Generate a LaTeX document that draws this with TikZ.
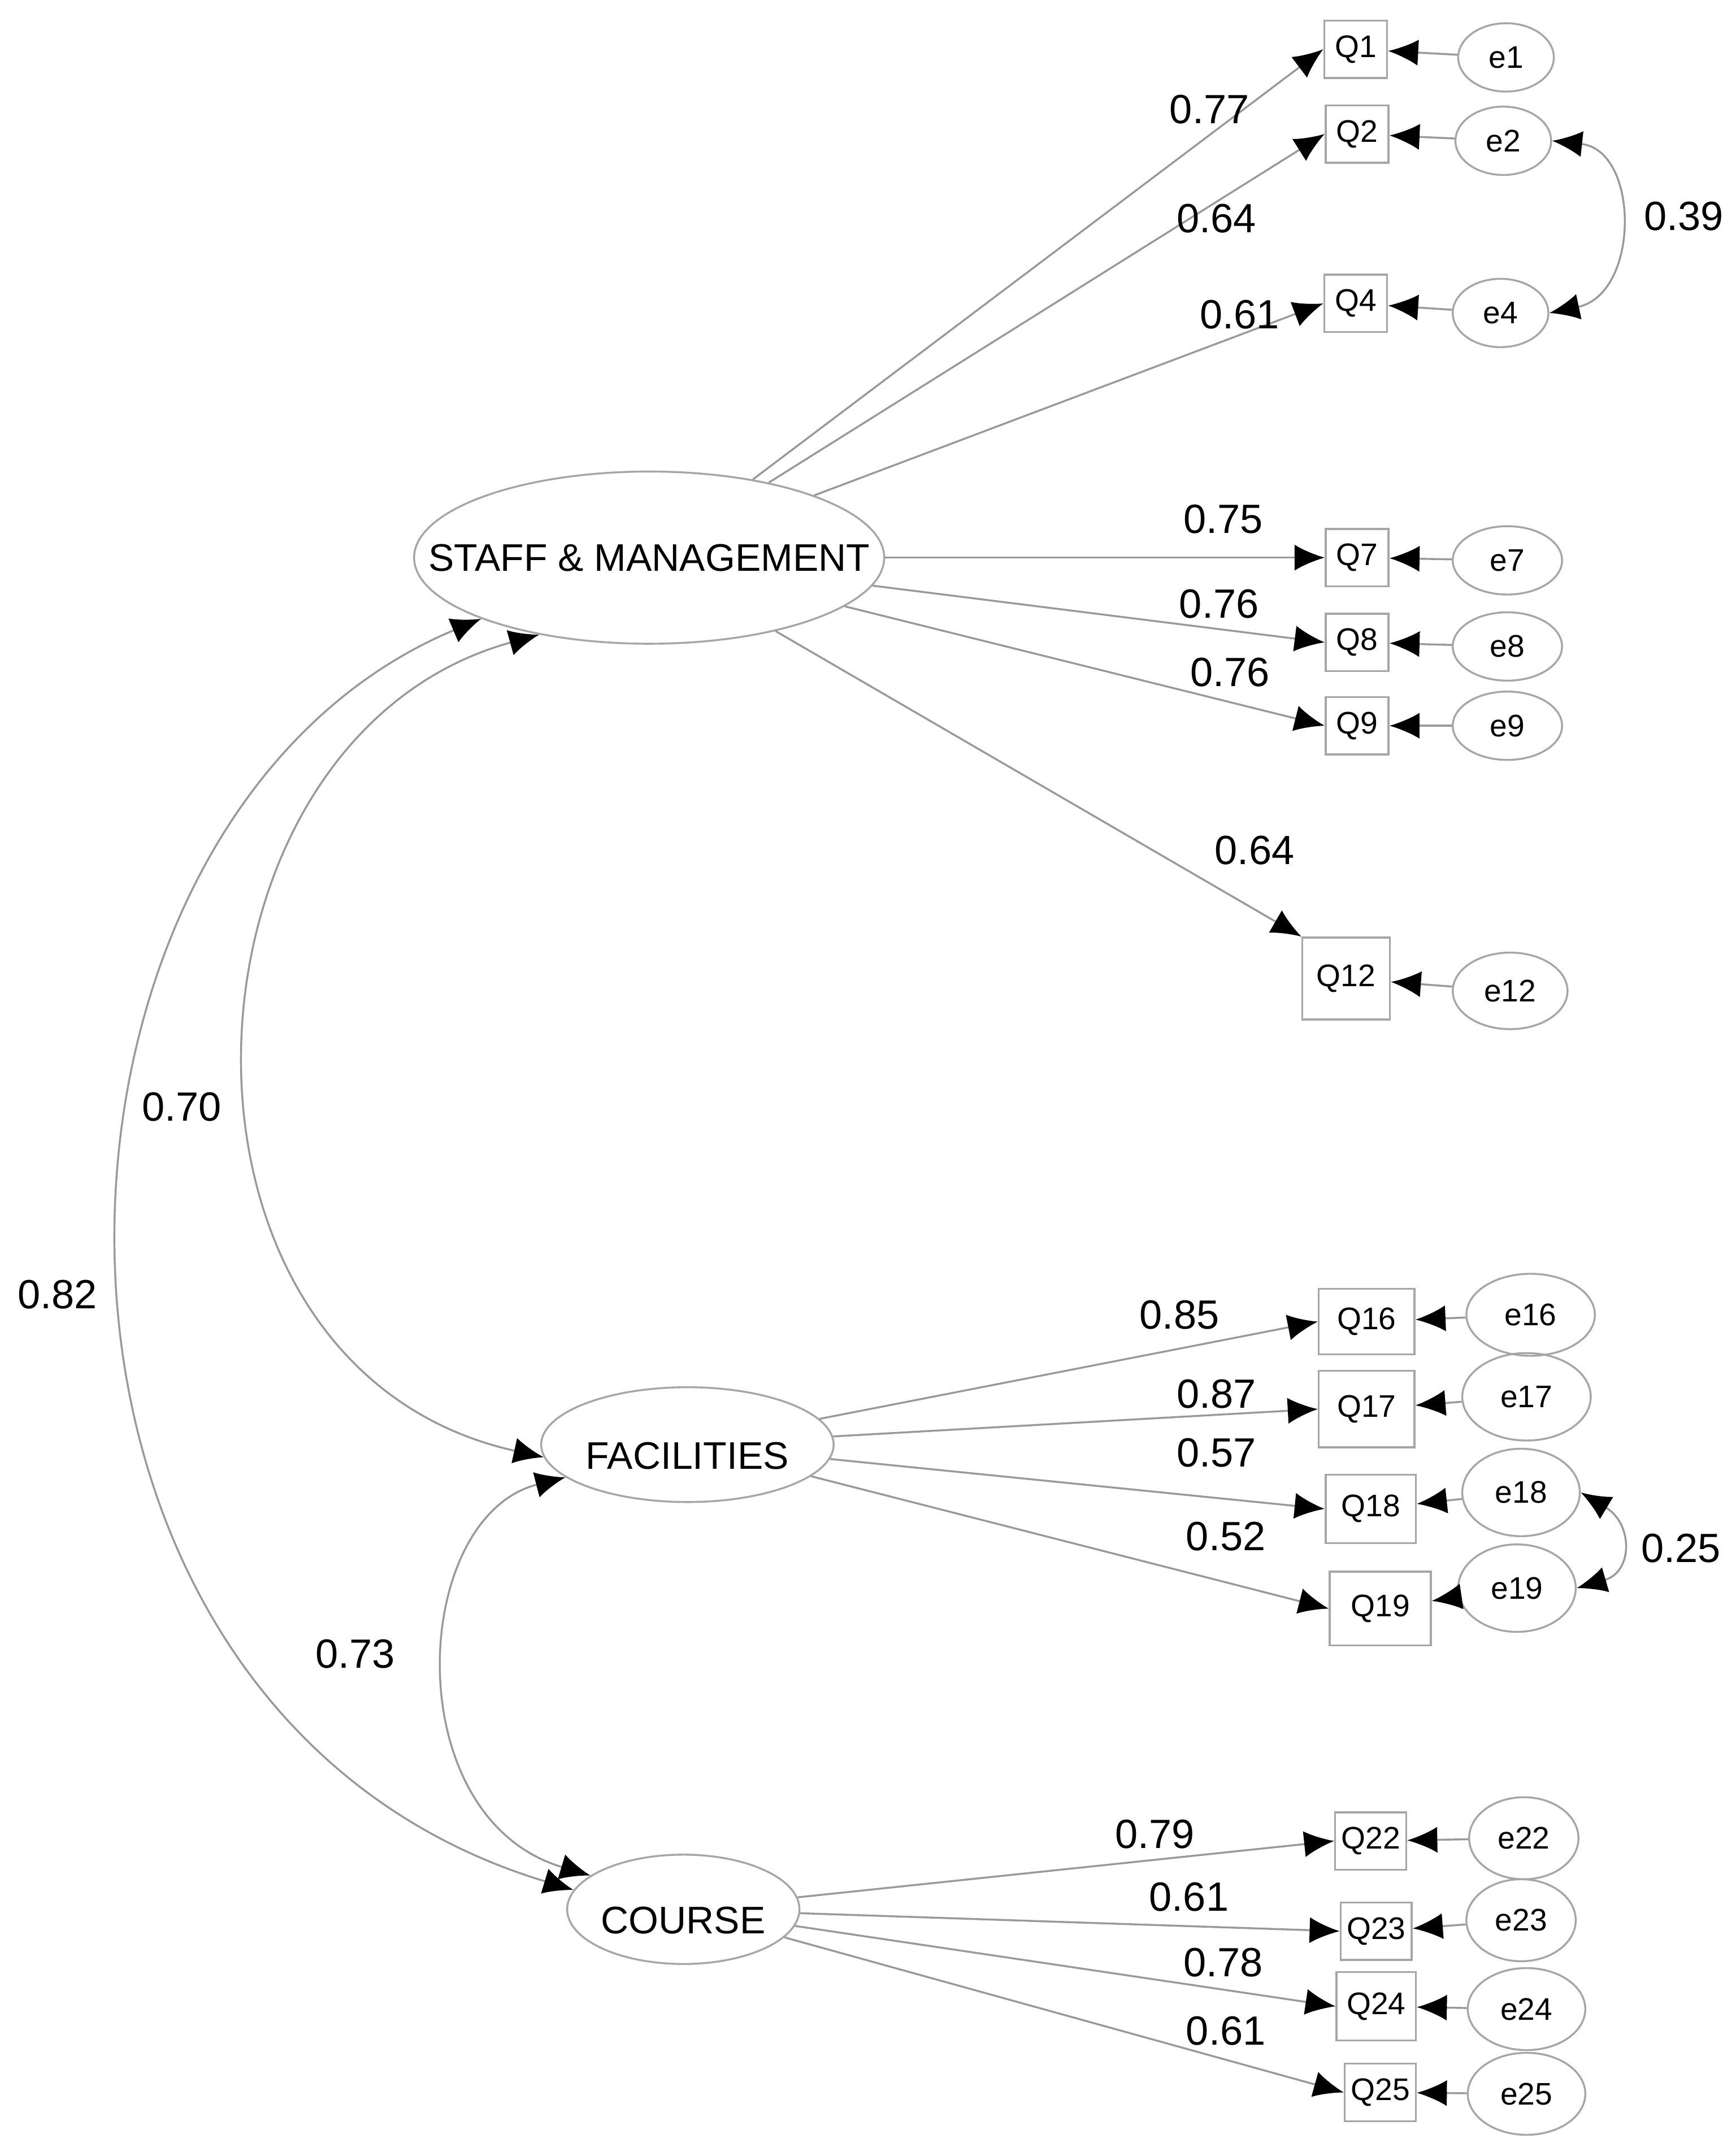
\documentclass[tikz,border=0pt]{standalone}
\usepackage{fontspec}
\setmainfont{Liberation Sans}
\usetikzlibrary{arrows.meta,shapes.geometric}

\tikzset{
  latent/.style={ellipse, draw=gray!70, thin, inner sep=0pt},
  err/.style={ellipse, draw=gray!70, thin, minimum width=7mm, minimum height=5mm, inner sep=0pt, font=\fontsize{6.5}{7}\selectfont},
  obs/.style={rectangle, draw=gray!70, thin, minimum width=4.6mm, minimum height=4.2mm, inner sep=0pt, font=\fontsize{6.5}{7}\selectfont},
  tip/.style={Latex[black, length=2.2mm, width=1.9mm]},
  load/.style={draw=gray!80, thin, -{Latex[black, length=2.2mm, width=1.9mm]}},
  cov/.style={draw=gray!80, thin, {Latex[black, length=2.2mm, width=1.9mm]}-{Latex[black, length=2.2mm, width=1.9mm]}},
  coef/.style={font=\fontsize{8.5}{10}\selectfont},
  fname/.style={font=\fontsize{8}{9}\selectfont}
}

\begin{document}
\begin{tikzpicture}[x=0.1mm, y=-0.1mm]
    \useasboundingbox (0,0) rectangle (1270,1568);

    % factors
    \node[latent, minimum width=34.4mm, minimum height=12.6mm] (staff) at (475,408) {};
    \node[fname] (staffname) at (staff) {STAFF \& MANAGEMENT};
    \node[latent, minimum width=21.4mm, minimum height=8.4mm] (fac) at (503,1057) {};
    \node[fname] (facname) at ([yshift=-0.8mm]fac) {FACILITIES};
    \node[latent, minimum width=17mm, minimum height=8mm] (course) at (500,1397) {};
    \node[fname] (coursename) at ([yshift=-0.8mm]course) {COURSE};

    % items
    \node[obs] (q1) at (992,36) {Q1};
    \node[obs] (q2) at (993,98) {Q2};
    \node[obs] (q4) at (992,222) {Q4};
    \node[obs] (q7) at (993,408) {Q7};
    \node[obs] (q8) at (993,470) {Q8};
    \node[obs] (q9) at (993,531) {Q9};
    \node[obs, minimum width=6.4mm, minimum height=6mm] (q12) at (985,716) {Q12};
    \node[obs, minimum width=7mm, minimum height=4.8mm] (q16) at (1000,967) {Q16};
    \node[obs, minimum width=7mm, minimum height=5.6mm] (q17) at (1000,1031) {Q17};
    \node[obs, minimum width=6.6mm, minimum height=5mm] (q18) at (1003,1104) {Q18};
    \node[obs, minimum width=7.4mm, minimum height=5.4mm] (q19) at (1010,1177) {Q19};
    \node[obs, minimum width=5.2mm] (q22) at (1003,1347) {Q22};
    \node[obs, minimum width=5.2mm] (q23) at (1007,1413) {Q23};
    \node[obs, minimum width=5.8mm, minimum height=5mm] (q24) at (1007,1468) {Q24};
    \node[obs, minimum width=5.2mm] (q25) at (1010,1531) {Q25};

    % errors
    \node[err] (e1) at (1102,42) {e1};
    \node[err] (e2) at (1100,103) {e2};
    \node[err] (e4) at (1098,229) {e4};
    \node[err, minimum width=8mm] (e7) at (1103,410) {e7};
    \node[err, minimum width=8mm] (e8) at (1103,473) {e8};
    \node[err, minimum width=8mm] (e9) at (1103,531) {e9};
    \node[err, minimum width=8.4mm, minimum height=5.6mm] (e12) at (1105,725) {e12};
    \node[err, minimum width=9.4mm, minimum height=6mm] (e16) at (1120,962) {e16};
    \node[err, minimum width=9.4mm, minimum height=6.4mm] (e17) at (1117,1022) {e17};
    \node[err, minimum width=8.6mm, minimum height=6.4mm] (e18) at (1113,1092) {e18};
    \node[err, minimum width=8.6mm, minimum height=6.4mm] (e19) at (1110,1162) {e19};
    \node[err, minimum width=8mm, minimum height=6mm] (e22) at (1115,1345) {e22};
    \node[err, minimum width=8mm, minimum height=6mm] (e23) at (1113,1405) {e23};
    \node[err, minimum width=8.6mm, minimum height=6mm] (e24) at (1117,1470) {e24};
    \node[err, minimum width=8.6mm, minimum height=6mm] (e25) at (1117,1532) {e25};

    % loadings
    \foreach \q in {q1,q2,q4,q7,q8,q9}
      \draw[load] (staff) -- (\q.west);
    \draw[load] (staff) -- (q12.north west);
    \foreach \q in {q16,q17,q18,q19}
      \draw[load] (fac) -- (\q.west);
    \foreach \q in {q22,q23,q24,q25}
      \draw[load] (course) -- (\q.west);

    % error paths
    \foreach \n in {1,2,4,7,8,9,12,16,17,18,19,22,23,24,25}
      \draw[load] (e\n) -- (q\n);

    % covariances
    \draw[cov] (staff.200) .. controls (0,600) and (-20,1250) .. (course.170);
    \draw[cov] (staff.215) .. controls (120,540) and (100,1000) .. (fac.185);
    \draw[cov] (fac.195) .. controls (300,1110) and (290,1330) .. (course.160);
    \draw[cov] (e2.east) .. controls (1200,110) and (1200,215) .. (e4.east);
    \draw[cov] (e18.east) .. controls (1195,1115) and (1195,1150) .. (e19.east);

    % coefficients
    \node[coef] (l1) at (885,80) {0.77};
    \node[coef] (l2) at (890,160) {0.64};
    \node[coef] (l4) at (907,230) {0.61};
    \node[coef] (l7) at (895,380) {0.75};
    \node[coef] (l8) at (892,442) {0.76};
    \node[coef] (l9) at (900,492) {0.76};
    \node[coef] (l12) at (918,622) {0.64};
    \node[coef] (l16) at (863,962) {0.85};
    \node[coef] (l17) at (890,1020) {0.87};
    \node[coef] (l18) at (890,1063) {0.57};
    \node[coef] (l19) at (897,1124) {0.52};
    \node[coef] (l22) at (845,1342) {0.79};
    \node[coef] (l23) at (870,1388) {0.61};
    \node[coef] (l24) at (895,1436) {0.78};
    \node[coef] (l25) at (897,1486) {0.61};
    \node[coef] (c24) at (1232,158) {0.39};
    \node[coef] (c1819) at (1230,1133) {0.25};
    \node[coef] (csf) at (133,810) {0.70};
    \node[coef] (csc) at (42,947) {0.82};
    \node[coef] (cfc) at (260,1210) {0.73};
\end{tikzpicture}
\end{document}
